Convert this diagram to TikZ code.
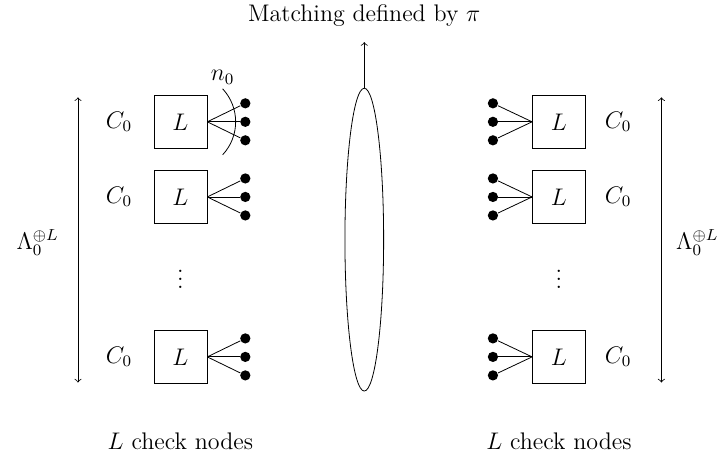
\documentclass[12pt,tikz,border=0pt]{standalone}
\usepackage{amsmath}
\usetikzlibrary{shapes.geometric}
\usetikzlibrary{positioning}
\usetikzlibrary{arrows,calc}

\begin{document}
\begin{tikzpicture}[%
  lbox/.style={draw, minimum size=0.93cm, inner sep=0pt},
  pin/.style={circle, fill=black, inner sep=0pt, minimum size=0.18cm},
]
\useasboundingbox (0,0) rectangle (12.79,8.07);
%left column of check nodes
\foreach \n/\y in {1/5.93, 2/4.61, 3/1.80} {
  \node[lbox] (LB\n) at (3.17,\y) {$L$};
  \node (LC\n) at (2.09,\y) {$C_0$};
  \foreach \k/\d in {1/0.325, 2/0, 3/-0.325} {
    \node[pin] (LP\n\k) at (4.31,\y+\d) {};
    \draw (LB\n.east) -- (LP\n\k);
  }
}
%right column of check nodes
\foreach \n/\y in {1/5.93, 2/4.61, 3/1.80} {
  \node[lbox] (RB\n) at (9.82,\y) {$L$};
  \node (RC\n) at (10.86,\y) {$C_0$};
  \foreach \k/\d in {1/0.325, 2/0, 3/-0.325} {
    \node[pin] (RP\n\k) at (8.66,\y+\d) {};
    \draw (RB\n.west) -- (RP\n\k);
  }
}
\node (LD) at (3.17,3.27) {$\vdots$};
\node (RD) at (9.82,3.27) {$\vdots$};
%arc over the edges of the first box
\coordinate (arcc) at (3.29,5.93);
\draw ([shift={(-43:0.85)}]arcc) arc[start angle=-43, end angle=43, radius=0.85]
  node[above, inner sep=2pt] (n0) {$n_0$};
%matching
\node[draw, ellipse, inner sep=0pt, minimum width=0.68cm, minimum height=5.32cm] (match) at (6.40,3.86) {};
\coordinate (up) at (6.40,7.33);
\draw [->] (match.north) -- (up);
\node (title) at (6.40,7.80) {Matching defined by $\pi$};
%sizes
\coordinate (LT) at (1.37,6.36);
\coordinate (LU) at (1.37,1.35);
\coordinate (RT) at (11.62,6.36);
\coordinate (RU) at (11.62,1.35);
\draw [<->] (LT) -- (LU);
\draw [<->] (RT) -- (RU);
\node (LL) at (0.66,3.81) {$\Lambda_0^{\oplus L}$};
\node (RL) at (12.25,3.81) {$\Lambda_0^{\oplus L}$};
\node (LN) at (3.17,0.31) {$L$ check nodes};
\node (RN) at (9.82,0.31) {$L$ check nodes};
\end{tikzpicture}
\end{document}
